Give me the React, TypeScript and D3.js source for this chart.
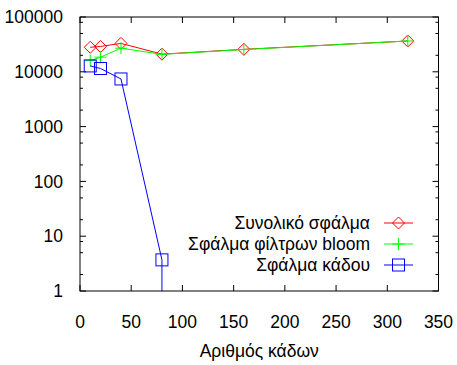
import React from "react";
import * as d3 from "d3";

// Number of buckets on the x axis
const buckets = [10, 20, 40, 80, 160, 320];
// Error series (log scale)
const totalError = [28000, 29000, 33000, 21000, 25700, 36500];
const bloomError = [16000, 18500, 27000, 20800, 25500, 36500];
const bucketError = [12800, 11500, 7400, 3.7];

const xTicks = [0, 50, 100, 150, 200, 250, 300, 350];
const yTicks = [1, 10, 100, 1000, 10000, 100000];
const minorFactors = [2, 5, 8];

const seriesNames = ["Συνολικό σφάλμα", "Σφάλμα φίλτρων bloom", "Σφάλμα κάδου"];
const xTitle = "Αριθμός κάδων";

const W = 457;
const H = 365;
const M = { left: 80, top: 17, right: 438.5, bottom: 291 };
const FONT = "'Liberation Sans', Arial, sans-serif";
const FS = 17.5;

const colors = ["#ff0000", "#00ff00", "#0000ff"];

export default function App() {
  const x = d3.scaleLinear().domain([0, 350]).range([M.left, M.right]);
  const y = d3.scaleLog().domain([1, 100000]).range([M.bottom, M.top]);

  const line = d3
    .line<[number, number]>()
    .x((d) => x(d[0]))
    .y((d) => y(d[1]));

  const series = [totalError, bloomError, bucketError].map((vals) =>
    vals.map((v, i) => [buckets[i], v] as [number, number])
  );

  const minorTicks: number[] = [];
  yTicks.slice(0, -1).forEach((t) => minorFactors.forEach((f) => minorTicks.push(t * f)));

  const diamond = (cx: number, cy: number, c: string, key: string) => (
    <path
      key={key}
      d={`M${cx - 6},${cy}L${cx},${cy - 6}L${cx + 6},${cy}L${cx},${cy + 6}Z`}
      fill="none"
      stroke={c}
      strokeWidth={1}
    />
  );
  const plus = (cx: number, cy: number, c: string, key: string) => (
    <path
      key={key}
      d={`M${cx - 6},${cy}H${cx + 6}M${cx},${cy - 6}V${cy + 6}`}
      fill="none"
      stroke={c}
      strokeWidth={1}
    />
  );
  const square = (cx: number, cy: number, c: string, key: string) => (
    <rect
      key={key}
      x={cx - 6}
      y={cy - 6}
      width={12}
      height={12}
      fill="none"
      stroke={c}
      strokeWidth={1}
    />
  );
  const markers = [diamond, plus, square];

  const lastBucket = series[2][series[2].length - 1];

  return (
    <svg width={W} height={H} style={{ position: "absolute", left: 0, top: 0, background: "#fff" }} fontFamily={FONT}>
      <rect width={W} height={H} fill="#fff" />

      {/* y ticks */}
      {yTicks.map((t) => (
        <g key={"y" + t}>
          <line x1={M.left} x2={M.left + 6} y1={y(t)} y2={y(t)} stroke="#000" />
          <line x1={M.right} x2={M.right - 6} y1={y(t)} y2={y(t)} stroke="#000" />
          <text x={63} y={y(t)} dy="0.35em" textAnchor="end" fontSize={FS} fill="#000">
            {t}
          </text>
        </g>
      ))}
      {minorTicks.map((t) => (
        <g key={"m" + t}>
          <line x1={M.left} x2={M.left + 3} y1={y(t)} y2={y(t)} stroke="#000" />
          <line x1={M.right} x2={M.right - 3} y1={y(t)} y2={y(t)} stroke="#000" />
        </g>
      ))}

      {/* x ticks */}
      {xTicks.map((t) => (
        <g key={"x" + t}>
          <line x1={x(t)} x2={x(t)} y1={M.bottom} y2={M.bottom - 6} stroke="#000" />
          <line x1={x(t)} x2={x(t)} y1={M.top} y2={M.top + 6} stroke="#000" />
          <text x={x(t)} y={328} textAnchor="middle" fontSize={FS} fill="#000">
            {t}
          </text>
        </g>
      ))}

      <text x={(M.left + M.right) / 2} y={357} textAnchor="middle" fontSize={FS} fill="#000">
        {xTitle}
      </text>

      {/* series */}
      {series.map((s, si) => (
        <g key={"s" + si}>
          <path d={line(s) || ""} fill="none" stroke={colors[si]} strokeWidth={1} />
          {s.map((d, i) => markers[si](x(d[0]), y(d[1]), colors[si], `p${si}-${i}`))}
        </g>
      ))}
      {/* bucket error falls below the axis range after its last point */}
      <line
        x1={x(lastBucket[0])}
        x2={x(lastBucket[0])}
        y1={y(lastBucket[1])}
        y2={y(1)}
        stroke={colors[2]}
        strokeWidth={1}
      />

      {/* legend */}
      {seriesNames.map((n, i) => {
        const ly = 223 + i * 21;
        return (
          <g key={"l" + i}>
            <text x={370} y={ly} dy="0.35em" textAnchor="end" fontSize={FS} fill="#000">
              {n}
            </text>
            <line x1={384} x2={413} y1={ly} y2={ly} stroke={colors[i]} strokeWidth={1} />
            {markers[i](398.5, ly, colors[i], "lm" + i)}
          </g>
        );
      })}

      {/* border */}
      <rect
        x={M.left}
        y={M.top}
        width={M.right - M.left}
        height={M.bottom - M.top}
        fill="none"
        stroke="#000"
        strokeWidth={1}
      />
    </svg>
  );
}
